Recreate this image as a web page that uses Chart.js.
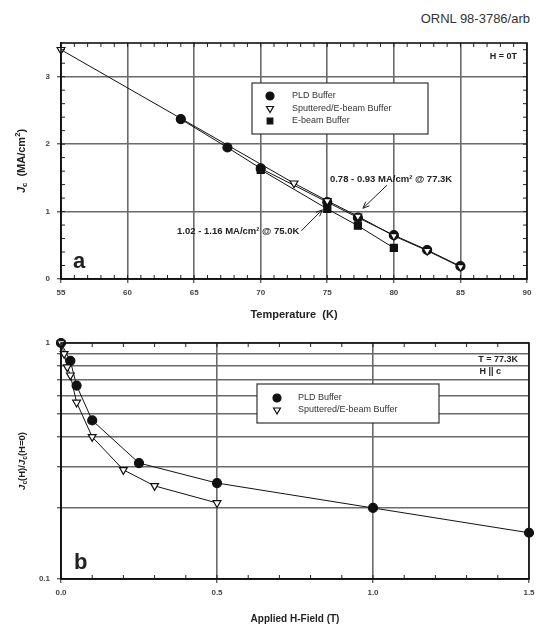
<!DOCTYPE html>
<html lang="en">
<head>
<meta charset="UTF-8">
<title>Jc vs Temperature and Applied Field</title>
<script src="https://cdn.jsdelivr.net/npm/chart.js"></script>
<style>
  body { margin: 0; background: #fff; width: 543px; height: 625px; position: relative; overflow: hidden; font-family: "Liberation Sans", Arial, sans-serif; }
  #tag { position: absolute; right: 13px; top: 11px; font-size: 13px; color: #333; }
  .box { position: absolute; left: 0; width: 543px; }
</style>
</head>
<body>
<div id="tag">ORNL 98-3786/arb</div>
<div class="box" style="top:0;height:325px"><canvas id="tempChart"></canvas></div>
<div class="box" style="top:330px;height:295px"><canvas id="fieldChart"></canvas></div>

<script>
// ---- panel a: Jc vs temperature (H = 0T)
const pldTemp = [64, 67.5, 70, 75, 77.3, 80, 82.5, 85];
const pldJc = [2.37, 1.95, 1.64, 1.14, 0.91, 0.65, 0.43, 0.19];
const sputTemp = [55, 72.5, 75, 77.3, 80, 82.5, 85];
const sputJc = [3.4, 1.42, 1.16, 0.93, 0.64, 0.42, 0.18];
const ebeamTemp = [70, 75, 77.3, 80];
const ebeamJc = [1.62, 1.04, 0.79, 0.46];
const tempTicks = [55, 60, 65, 70, 75, 80, 85, 90];
const jcTicks = [0, 1, 2, 3];

// ---- panel b: normalised Jc vs applied field (T = 77.3K)
const fieldPld = [0, 0.03, 0.05, 0.1, 0.25, 0.5, 1.0, 1.5];
const ratioPld = [1.0, 0.84, 0.66, 0.47, 0.31, 0.255, 0.2, 0.157];
const fieldSput = [0, 0.01, 0.02, 0.03, 0.05, 0.1, 0.2, 0.3, 0.5];
const ratioSput = [1.0, 0.9, 0.79, 0.73, 0.56, 0.40, 0.29, 0.248, 0.21];
const fieldTicks = [0, 0.5, 1.0, 1.5];
const ratioTicks = [0.1, 0.2, 0.3, 0.4, 0.5, 0.6, 0.7, 0.8, 0.9, 1];

const FONT = '"Liberation Sans", Arial, sans-serif';
const pts = (xs, ys) => xs.map((v, i) => ({ x: v, y: ys[i] }));

function series(label, xs, ys, style, fill, order) {
  return {
    label, data: pts(xs, ys), showLine: true, order, clip: false,
    borderColor: '#111', borderWidth: 1,
    pointStyle: style, rotation: style === 'triangle' ? 180 : 0,
    pointRadius: style === 'rect' ? 5 : 4.5, pointHoverRadius: 4.5,
    pointBackgroundColor: fill, pointBorderColor: '#111', pointBorderWidth: 1.2
  };
}

function drawLegend(ctx, box, items) {
  ctx.fillStyle = '#fff';
  ctx.fillRect(box.x, box.y, box.w, box.h);
  ctx.strokeStyle = '#333'; ctx.lineWidth = 1.2;
  ctx.strokeRect(box.x, box.y, box.w, box.h);
  ctx.font = '9px ' + FONT;
  ctx.textBaseline = 'middle'; ctx.textAlign = 'left';
  items.forEach((it, i) => {
    const yy = box.y + box.first + i * box.step;
    ctx.fillStyle = it.fill; ctx.strokeStyle = '#111'; ctx.lineWidth = 1.2;
    Chart.helpers.drawPoint(ctx, { pointStyle: it.style, rotation: it.style === 'triangle' ? 180 : 0, radius: 4, borderWidth: 1.2 }, box.x + box.mark, yy);
    ctx.fillStyle = '#333';
    ctx.fillText(it.label, box.x + box.text, yy);
  });
}

function drawYTitle(ctx, x, y, size, parts) {
  ctx.save();
  ctx.translate(x, y);
  ctx.rotate(-Math.PI / 2);
  ctx.fillStyle = '#222'; ctx.textBaseline = 'middle';
  let total = 0;
  parts.forEach(p => { ctx.font = p.f + ' ' + (p.sub || p.sup ? size * 0.7 : size) + 'px ' + FONT; total += ctx.measureText(p.t).width; });
  let cx = -total / 2;
  parts.forEach(p => {
    ctx.font = p.f + ' ' + (p.sub || p.sup ? size * 0.7 : size) + 'px ' + FONT;
    const dy = p.sub ? size * 0.3 : (p.sup ? -size * 0.35 : 0);
    ctx.textAlign = 'left';
    ctx.fillText(p.t, cx, dy);
    cx += ctx.measureText(p.t).width;
  });
  ctx.restore();
}

function arrow(ctx, x1, y1, x2, y2) {
  const ang = Math.atan2(y2 - y1, x2 - x1);
  ctx.beginPath();
  ctx.moveTo(x1, y1); ctx.lineTo(x2, y2);
  ctx.moveTo(x2, y2); ctx.lineTo(x2 - 7 * Math.cos(ang - 0.4), y2 - 7 * Math.sin(ang - 0.4));
  ctx.moveTo(x2, y2); ctx.lineTo(x2 - 7 * Math.cos(ang + 0.4), y2 - 7 * Math.sin(ang + 0.4));
  ctx.stroke();
}

const tickFont = { family: FONT, size: 8, weight: 'bold' };
const gridStyle = { color: '#6a6a6a', lineWidth: 1.6, tickLength: 4, tickColor: '#222', tickWidth: 1 };

const decorA = {
  id: 'decorA',
  afterDraw(chart) {
    const { ctx, chartArea: a, scales: { x, y } } = chart;
    ctx.save();
    ctx.strokeStyle = '#222'; ctx.lineWidth = 1;
    ctx.beginPath();
    for (let t = 56; t < 90; t++) {
      const px = x.getPixelForValue(t);
      ctx.moveTo(px, a.top); ctx.lineTo(px, a.top + 4);
      ctx.moveTo(px, a.bottom); ctx.lineTo(px, a.bottom - 4);
    }
    for (let k = 1; k < 18; k++) {
      const py = y.getPixelForValue(k * 0.2);
      ctx.moveTo(a.left, py); ctx.lineTo(a.left + 4, py);
      ctx.moveTo(a.right, py); ctx.lineTo(a.right - 4, py);
    }
    ctx.stroke();
    ctx.lineWidth = 1.6; ctx.strokeStyle = '#111';
    ctx.strokeRect(a.left, a.top, a.right - a.left, a.bottom - a.top);

    drawLegend(ctx, { x: 252, y: 83, w: 176, h: 51, first: 13, step: 12.5, mark: 18, text: 40 }, [
      { label: 'PLD Buffer', style: 'circle', fill: '#111' },
      { label: 'Sputtered/E-beam Buffer', style: 'triangle', fill: '#fff' },
      { label: 'E-beam Buffer', style: 'rect', fill: '#111' }
    ]);

    ctx.fillStyle = '#222';
    ctx.font = 'bold 9px ' + FONT; ctx.textBaseline = 'middle';
    ctx.textAlign = 'right';
    ctx.fillText('H = 0T', a.right - 10, a.top + 14);

    // annotations, anchored to data values
    ctx.font = 'bold 9.5px ' + FONT;
    ctx.textAlign = 'left';
    ctx.fillText('0.78 - 0.93 MA/cm\u00B2 @ 77.3K', x.getPixelForValue(75.2), y.getPixelForValue(1.48));
    ctx.textAlign = 'right';
    ctx.fillText('1.02 - 1.16 MA/cm\u00B2 @ 75.0K', x.getPixelForValue(72.9), y.getPixelForValue(0.70));
    ctx.strokeStyle = '#222'; ctx.lineWidth = 1;
    const p1x = x.getPixelForValue(77.3), p1y = y.getPixelForValue(0.93);
    arrow(ctx, p1x + 29, p1y - 31, p1x + 5, p1y - 8);
    const p2x = x.getPixelForValue(75), p2y = y.getPixelForValue(1.1);
    arrow(ctx, p2x - 26, p2y + 26, p2x - 5, p2y + 5);

    ctx.font = 'bold 22px ' + FONT; ctx.textAlign = 'left'; ctx.textBaseline = 'alphabetic';
    ctx.fillText('a', a.left + 12, a.bottom - 11);

    drawYTitle(ctx, 22, (a.top + a.bottom) / 2, 11, [
      { t: 'J', f: 'bold italic' }, { t: 'c', f: 'bold', sub: true }, { t: '  (MA/cm', f: 'bold' },
      { t: '2', f: 'bold', sup: true }, { t: ')', f: 'bold' }
    ]);
    ctx.restore();
  }
};

const decorB = {
  id: 'decorB',
  afterDraw(chart) {
    const { ctx, chartArea: a, scales: { x } } = chart;
    ctx.save();
    ctx.strokeStyle = '#222'; ctx.lineWidth = 1;
    ctx.beginPath();
    for (let k = 1; k < 15; k++) {
      const px = x.getPixelForValue(k * 0.1);
      ctx.moveTo(px, a.top); ctx.lineTo(px, a.top + 4);
      ctx.moveTo(px, a.bottom); ctx.lineTo(px, a.bottom - 4);
    }
    ctx.stroke();
    ctx.lineWidth = 1.6; ctx.strokeStyle = '#111';
    ctx.strokeRect(a.left, a.top, a.right - a.left, a.bottom - a.top);

    drawLegend(ctx, { x: 257, y: 384 - 330, w: 182, h: 39, first: 14, step: 12, mark: 20, text: 41 }, [
      { label: 'PLD Buffer', style: 'circle', fill: '#111' },
      { label: 'Sputtered/E-beam Buffer', style: 'triangle', fill: '#fff' }
    ]);

    ctx.fillStyle = '#222';
    ctx.font = 'bold 9px ' + FONT; ctx.textBaseline = 'middle'; ctx.textAlign = 'right';
    ctx.fillText('T = 77.3K', a.right - 11, a.top + 17);
    ctx.fillText('H || c', a.right - 28, a.top + 29);

    ctx.font = 'bold 22px ' + FONT; ctx.textAlign = 'left'; ctx.textBaseline = 'alphabetic';
    ctx.fillText('b', a.left + 13, a.bottom - 10);

    drawYTitle(ctx, 22, (a.top + a.bottom) / 2, 9.5, [
      { t: 'J', f: 'bold italic' }, { t: 'c', f: 'bold', sub: true }, { t: '(H)/', f: 'bold' },
      { t: 'J', f: 'bold italic' }, { t: 'c', f: 'bold', sub: true }, { t: '(H=0)', f: 'bold' }
    ]);
    ctx.restore();
  }
};

new Chart(document.getElementById('tempChart'), {
  type: 'scatter',
  data: {
    datasets: [
      series('Sputtered/E-beam Buffer', sputTemp, sputJc, 'triangle', '#fff', 0),
      series('E-beam Buffer', ebeamTemp, ebeamJc, 'rect', '#111', 1),
      series('PLD Buffer', pldTemp, pldJc, 'circle', '#111', 2)
    ]
  },
  options: {
    responsive: true, maintainAspectRatio: false, animation: false,
    layout: { padding: { left: 0, right: 16, top: 43, bottom: 0 } },
    plugins: { legend: { display: false }, tooltip: { enabled: false } },
    scales: {
      x: {
        type: 'linear', min: 55, max: 90,
        afterBuildTicks: s => { s.ticks = tempTicks.map(v => ({ value: v })); },
        afterFit: s => { s.height = 46; },
        grid: gridStyle, border: { color: '#111', width: 1.6 },
        ticks: { font: tickFont, color: '#444', padding: 5, callback: v => String(v) },
        title: { display: true, text: 'Temperature  (K)', font: { family: FONT, size: 11, weight: 'bold' }, color: '#222', padding: { top: 0, bottom: 3 } }
      },
      y: {
        type: 'linear', min: 0, max: 3.5,
        afterBuildTicks: s => { s.ticks = jcTicks.map(v => ({ value: v })); },
        afterFit: s => { s.width = 61; },
        grid: gridStyle, border: { color: '#111', width: 1.6 },
        ticks: { font: tickFont, color: '#444', padding: 7, callback: v => String(v) }
      }
    }
  },
  plugins: [decorA]
});

new Chart(document.getElementById('fieldChart'), {
  type: 'scatter',
  data: {
    datasets: [
      series('Sputtered/E-beam Buffer', fieldSput, ratioSput, 'triangle', '#fff', 0),
      series('PLD Buffer', fieldPld, ratioPld, 'circle', '#111', 1)
    ]
  },
  options: {
    responsive: true, maintainAspectRatio: false, animation: false,
    layout: { padding: { left: 0, right: 14, top: 13, bottom: 0 } },
    plugins: { legend: { display: false }, tooltip: { enabled: false } },
    scales: {
      x: {
        type: 'linear', min: 0, max: 1.5,
        afterBuildTicks: s => { s.ticks = fieldTicks.map(v => ({ value: v })); },
        afterFit: s => { s.height = 46; },
        grid: gridStyle, border: { color: '#111', width: 1.6 },
        ticks: { font: tickFont, color: '#444', padding: 5, callback: v => Number(v).toFixed(1) },
        title: { display: true, text: 'Applied H-Field (T)', font: { family: FONT, size: 10, weight: 'bold' }, color: '#222', padding: { top: 0, bottom: 0 } }
      },
      y: {
        type: 'logarithmic', min: 0.1, max: 1,
        afterBuildTicks: s => { s.ticks = ratioTicks.map(v => ({ value: v })); },
        afterFit: s => { s.width = 61; },
        grid: gridStyle, border: { color: '#111', width: 1.6 },
        ticks: { font: tickFont, color: '#444', padding: 7, callback: v => (v === 1 || v === 0.1) ? String(v) : '' }
      }
    }
  },
  plugins: [decorB]
});
</script>
</body>
</html>
